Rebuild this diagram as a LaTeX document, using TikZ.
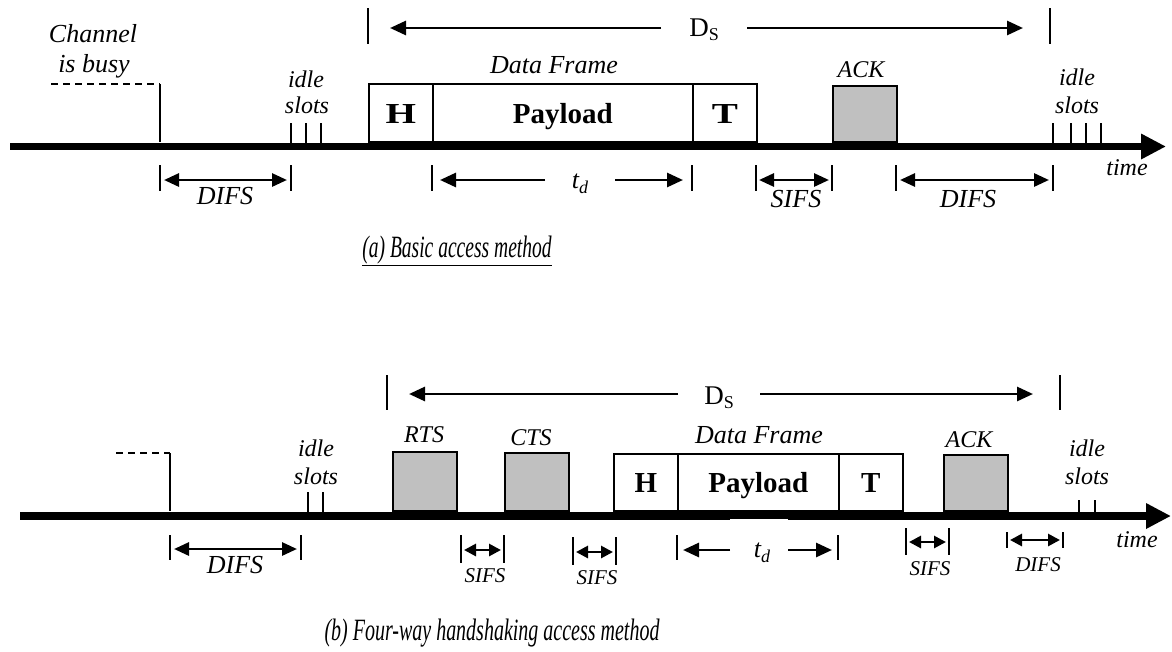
\documentclass[tikz,border=0pt]{standalone}
\usepackage{fontspec}
\setmainfont{Liberation Serif}
\usepackage{graphicx}
\usetikzlibrary{arrows.meta}
\definecolor{ackgray}{HTML}{C0C0C0}
\newcommand\fsz[1]{\fontsize{#1}{#1}\selectfont}
\newcommand\vtick[4]{\coordinate (#1a) at (#2,#3); \coordinate (#1b) at (#2,#4); \draw[tk] (#1a) -- (#1b);}
\newcommand\hseg[5]{\coordinate (#1s) at (#2,#4); \coordinate (#1e) at (#3,#4); \draw[#5] (#1s) -- (#1e);}
\newcommand\tsub[2]{\textit{#1}\raisebox{-5pt}{\fsz{18}\textit{#2}}}
\newcommand\dsub{D\raisebox{-4pt}{\fsz{18}S}}
\begin{document}
\begin{tikzpicture}[x=1pt,y=-1pt,
  tk/.style={line width=1.8pt},
  axisline/.style={line width=7.5pt,-{Triangle[length=25pt,width=24pt]}},
  busyline/.style={line width=1.8pt,dash pattern=on 7pt off 5pt},
  single/.style={line width=2.8pt,-{Triangle[length=16pt,width=14pt]}},
  dbl/.style={line width=2.8pt,{Triangle[length=15pt,width=13pt]}-{Triangle[length=15pt,width=13pt]}},
  sdbl/.style={line width=2.8pt,{Triangle[length=12pt,width=12pt]}-{Triangle[length=12pt,width=12pt]}},
  frame/.style={draw,line width=1.6pt,inner sep=0pt,anchor=south west,font=\bfseries\fsz{29},text height=20pt,text depth=0pt},
  grayframe/.style={frame,fill=ackgray},
  lbl/.style={inner sep=0pt,anchor=base,font=\itshape\fsz{24}},
  lblbig/.style={inner sep=0pt,anchor=base,font=\itshape\fsz{26}},
  lblsmall/.style={inner sep=0pt,anchor=base,font=\itshape\fsz{21}},
  dslbl/.style={inner sep=0pt,anchor=base,font=\fsz{27}},
  captxt/.style={inner sep=0pt,anchor=base,font=\itshape\fsz{31}}]
\useasboundingbox (0,0) rectangle (1172,651);

% ================= (a) Basic access =================
\hseg{axA}{10}{1166}{146.5}{axisline}
% channel busy
\coordinate (bA1) at (51,84); \coordinate (bA2) at (160,84); \coordinate (bA3) at (160,142);
\draw[busyline] (bA1) -- (bA2);
\draw[tk] (bA2) -- (bA3);
\node[lblbig] (chanA) at (93,42) {Channel};
\node[lblbig] (isbusyA) at (94,72) {is busy};
% idle slots left
\vtick{isA1}{291}{123}{143}
\vtick{isA2}{306}{123}{143}
\vtick{isA3}{321}{123}{143}
\node[lbl] (idleA1) at (306,87) {idle};
\node[lbl] (slotsA1) at (307,113) {slots};
% DIFS
\vtick{difA1L}{160}{165}{191}
\vtick{difA1R}{291}{165}{191}
\hseg{difA1}{164}{287}{180}{dbl}
\node[lblbig] (difA1t) at (225,204) {DIFS};
% frame
\node[frame,minimum width=64pt,minimum height=58pt] (HA) at (368,143) {\scalebox{1.35}[1]{H}};
\node[frame,minimum width=260pt,minimum height=58pt] (PA) at (432,143) {Payload};
\node[frame,minimum width=64pt,minimum height=58pt] (TA) at (692,143) {\scalebox{1.35}[1]{T}};
\node[lblbig] (dfA) at (554,73) {Data Frame};
% ACK
\node[grayframe,minimum width=64pt,minimum height=56pt] (ackA) at (832,143) {};
\node[lbl] (acklA) at (861,77) {ACK};
% Ds
\vtick{dsAL}{368}{8}{44}
\vtick{dsAR}{1050}{8}{44}
\hseg{dsAl}{661}{390}{28}{single}
\hseg{dsAr}{747}{1023}{28}{single}
\node[dslbl] (dsA) at (704,36) {\dsub};
% td
\vtick{tdAL}{432}{165}{191}
\vtick{tdAR}{692}{165}{191}
\hseg{tdAl}{545}{440}{180}{single}
\hseg{tdAr}{615}{683}{180}{single}
\node[lblbig] (tdA) at (580,188) {\tsub{t}{d}};
% SIFS
\vtick{sifAL}{756}{165}{191}
\vtick{sifAR}{832}{165}{191}
\hseg{sifA}{759}{829}{180}{dbl}
\node[lblbig] (sifAt) at (796,207) {SIFS};
% DIFS right
\vtick{difA2L}{896}{165}{191}
\vtick{difA2R}{1053}{165}{191}
\hseg{difA2}{900}{1049}{180}{dbl}
\node[lblbig] (difA2t) at (968,207) {DIFS};
% idle slots right
\vtick{isA4}{1053}{123}{143}
\vtick{isA5}{1071}{123}{143}
\vtick{isA6}{1086}{123}{143}
\vtick{isA7}{1101}{123}{143}
\node[lbl] (idleA2) at (1077,85) {idle};
\node[lbl] (slotsA2) at (1077,113) {slots};
\node[lbl] (timeA) at (1127,175) {time};
% caption
\node[captxt] (capA) at (457,257) {\scalebox{0.63}[1]{\underline{(a) Basic access method}}};

% ================= (b) Four-way handshaking =================
\hseg{axB}{20}{1171}{516}{axisline}
\fill[white] (730,518.8) rectangle (788,521);
% channel busy
\coordinate (bB1) at (116,453); \coordinate (bB2) at (170,453); \coordinate (bB3) at (170,511);
\draw[busyline] (bB1) -- (bB2);
\draw[tk] (bB2) -- (bB3);
% idle slots left
\vtick{isB1}{308}{492}{512}
\vtick{isB2}{323}{492}{512}
\node[lbl] (idleB1) at (316,456) {idle};
\node[lbl] (slotsB1) at (316,484) {slots};
% DIFS
\vtick{difB1L}{170}{535}{560}
\vtick{difB1R}{301}{535}{560}
\hseg{difB1}{174}{297}{549}{dbl}
\node[lblbig] (difB1t) at (235,573) {DIFS};
% Ds
\vtick{dsBL}{387}{375}{410}
\vtick{dsBR}{1060}{375}{410}
\hseg{dsBl}{678}{409}{394}{single}
\hseg{dsBr}{760}{1033}{394}{single}
\node[dslbl] (dsB) at (719,404) {\dsub};
% RTS / CTS
\node[grayframe,minimum width=64pt,minimum height=59pt] (rts) at (392,512) {};
\node[lbl] (rtsl) at (424,442) {RTS};
\node[grayframe,minimum width=64pt,minimum height=58pt] (cts) at (504,512) {};
\node[lbl] (ctsl) at (531,445) {CTS};
% frame
\node[frame,minimum width=64pt,minimum height=57pt,text height=19pt] (HB) at (613,512) {H};
\node[frame,minimum width=161pt,minimum height=57pt,text height=19pt] (PB) at (677,512) {Payload};
\node[frame,minimum width=64pt,minimum height=57pt,text height=19pt] (TB) at (838,512) {T};
\node[lblbig] (dfB) at (759,443) {Data Frame};
% ACK
\node[grayframe,minimum width=64pt,minimum height=56pt] (ackB) at (943,512) {};
\node[lbl] (acklB) at (969,447) {ACK};
% idle slots right
\vtick{isB3}{1079}{500}{512}
\vtick{isB4}{1095}{500}{512}
\node[lbl] (idleB2) at (1087,456) {idle};
\node[lbl] (slotsB2) at (1087,484) {slots};
\node[lbl] (timeB) at (1137,547) {time};
% SIFS 1
\vtick{sifB1L}{461}{535}{563}
\vtick{sifB1R}{504}{535}{563}
\hseg{sifB1}{464}{501}{550}{sdbl}
\node[lblsmall] (sifB1t) at (485,582) {SIFS};
% SIFS 2
\vtick{sifB2L}{573}{537}{565}
\vtick{sifB2R}{616}{537}{565}
\hseg{sifB2}{576}{613}{552}{sdbl}
\node[lblsmall] (sifB2t) at (597,584) {SIFS};
% td
\vtick{tdBL}{677}{535}{560}
\vtick{tdBR}{838}{535}{560}
\hseg{tdBl}{730}{683}{550}{single}
\hseg{tdBr}{788}{832}{550}{single}
\node[lblbig] (tdB) at (762,557) {\tsub{t}{d}};
% SIFS 3
\vtick{sifB3L}{906}{528}{555}
\vtick{sifB3R}{949}{528}{555}
\hseg{sifB3}{909}{946}{542}{sdbl}
\node[lblsmall] (sifB3t) at (930,575) {SIFS};
% DIFS small
\vtick{difB2L}{1007}{532}{548}
\vtick{difB2R}{1063}{532}{548}
\hseg{difB2}{1010}{1060}{540}{sdbl}
\node[lblsmall] (difB2t) at (1038,571) {DIFS};
% caption
\node[captxt] (capB) at (492,640) {\scalebox{0.645}[1]{(b) Four-way handshaking access method}};
\end{tikzpicture}
\end{document}
